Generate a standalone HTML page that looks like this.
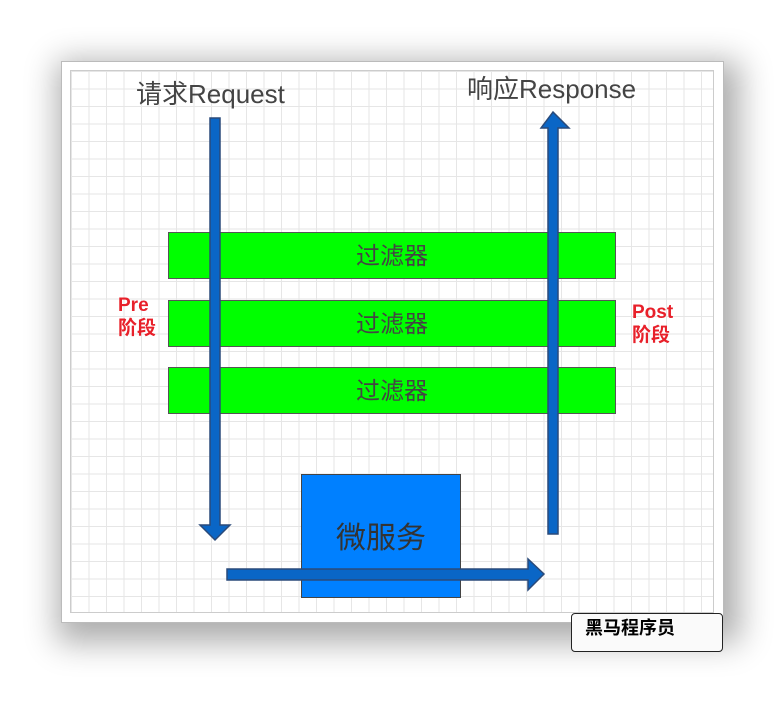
<!DOCTYPE html>
<html><head><meta charset="utf-8"><style>
html,body{margin:0;padding:0;width:784px;height:712px;background:#fff;overflow:hidden;position:relative;font-family:"Liberation Sans","Noto Sans CJK SC",sans-serif}
.a{position:absolute}
</style></head><body>
<div class="a" style="left:61px;top:61px;width:661px;height:560px;background:#fff;border:1px solid #bbb;box-shadow:6px 10px 30px 10px rgba(0,0,0,0.32)"></div>
<div class="a" style="left:70px;top:70px;width:642px;height:541px;border:1px solid #ccc;background-color:#fff;background-image:linear-gradient(#e6e6e6 1px,transparent 1px),linear-gradient(90deg,#e6e6e6 1px,transparent 1px);background-size:17.5px 17.5px"></div>
<div class="a" style="left:136px;top:74px;font-size:26px;color:#444">请求Request</div>
<div class="a" style="left:467px;top:69px;font-size:26px;color:#444">响应Response</div>
<div class="a" style="left:118px;top:294px;font-size:19px;font-weight:bold;color:#e8202a;line-height:23px">Pre<br>阶段</div>
<div class="a" style="left:632px;top:301px;font-size:19px;font-weight:bold;color:#e8202a;line-height:23px">Post<br>阶段</div>
<div class="a" style="left:168px;top:232px;width:446px;height:45px;background:#00ff00;border:1px solid #555;font-size:24px;color:#444;text-align:center;line-height:47px">过滤器</div>
<div class="a" style="left:168px;top:300px;width:446px;height:45px;background:#00ff00;border:1px solid #555;font-size:24px;color:#444;text-align:center;line-height:47px">过滤器</div>
<div class="a" style="left:168px;top:367px;width:446px;height:45px;background:#00ff00;border:1px solid #555;font-size:24px;color:#444;text-align:center;line-height:47px">过滤器</div>
<div class="a" style="left:301px;top:474px;width:158px;height:122px;background:#0080ff;border:1px solid #444;font-size:30px;color:#333;text-align:center;line-height:128px">微服务</div>
<svg class="a" style="left:0;top:0" width="784" height="712">
<g fill="#0a66c6" stroke="#2a4a7a" stroke-width="1.5">
<polygon points="210,118 220,118 220,525 230,525 215,540 200,525 210,525"/>
<polygon points="548,534 558,534 558,128 569,128 553,112 541,128 548,128"/>
<polygon points="227,569 528,569 528,559 544,574 528,590 528,580 227,580"/>
</g></svg>
<div class="a" style="left:571px;top:613px;width:152px;height:39px;background:#fafafa;border:1px solid #222;border-radius:4px;box-sizing:border-box;font-size:18px;font-weight:bold;color:#000;padding-left:13px;line-height:28px">黑马程序员</div>
</body></html>
